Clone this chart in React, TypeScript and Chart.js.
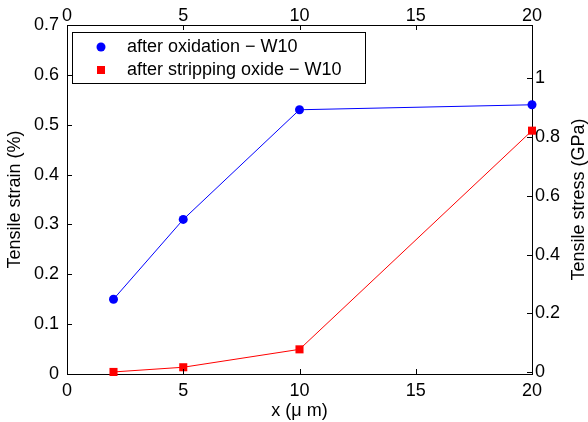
import React, { useEffect, useRef } from 'react';
import { Chart, registerables } from 'chart.js';

Chart.register(...registerables);

const xValues = [2, 5, 10, 20];
const strainValues = [0.15, 0.31, 0.53, 0.54];
const stressValues = [0, 0.016, 0.077, 0.822];
const xTicks = [0, 5, 10, 15, 20];
const strainTicks = [0, 0.1, 0.2, 0.3, 0.4, 0.5, 0.6, 0.7];
const stressTicks = [0, 0.2, 0.4, 0.6, 0.8, 1];
const seriesLabels = ['after oxidation − W10', 'after stripping oxide − W10'];
const xTitle = 'x (μ m)';
const leftTitle = 'Tensile strain (%)';
const rightTitle = 'Tensile stress (GPa)';

const FONT = '"Liberation Sans", Arial, Helvetica, sans-serif';
const FS = 18;

const overlayPlugin = {
  id: 'overlay',
  afterDraw(chart: any) {
    const { ctx, chartArea: ca, scales } = chart;
    ctx.save();
    ctx.strokeStyle = '#000';
    ctx.lineWidth = 1;
    const L = 5;
    ctx.beginPath();
    xTicks.forEach((v) => {
      const x = Math.round(scales.x.getPixelForValue(v)) + 0.5;
      ctx.moveTo(x, ca.bottom);
      ctx.lineTo(x, ca.bottom - L);
      ctx.moveTo(x, ca.top);
      ctx.lineTo(x, ca.top + L);
    });
    strainTicks.forEach((v) => {
      const y = Math.round(scales.y.getPixelForValue(v)) + 0.5;
      ctx.moveTo(ca.left, y);
      ctx.lineTo(ca.left + L, y);
    });
    stressTicks.forEach((v) => {
      const y = Math.round(scales.y2.getPixelForValue(v)) + 0.5;
      ctx.moveTo(ca.right, y);
      ctx.lineTo(ca.right - L, y);
    });
    ctx.stroke();

    ctx.fillStyle = '#000';
    ctx.font = `${FS}px ${FONT}`;
    ctx.textAlign = 'center';
    ctx.textBaseline = 'middle';

    // top axis tick labels
    xTicks.forEach((v) => {
      ctx.fillText(String(v), scales.x2.getPixelForValue(v), 16);
    });

    // right axis title (reads bottom-to-top)
    ctx.save();
    ctx.translate(579, (ca.top + ca.bottom) / 2);
    ctx.rotate(-Math.PI / 2);
    ctx.fillText(rightTitle, 0, 0);
    ctx.restore();

    // legend box
    const bx = 72.5, by = 32.5, bw = 293, bh = 51;
    ctx.fillStyle = '#fff';
    ctx.fillRect(bx, by, bw, bh);
    ctx.strokeRect(bx, by, bw, bh);
    const rows = [by + 14.5, by + 37.5];
    ctx.fillStyle = '#0000ff';
    ctx.beginPath();
    ctx.arc(101, rows[0], 4.5, 0, Math.PI * 2);
    ctx.fill();
    ctx.fillStyle = '#ff0000';
    ctx.fillRect(101 - 4, rows[1] - 4, 8, 8);
    ctx.fillStyle = '#000';
    ctx.textAlign = 'left';
    ctx.fillText(seriesLabels[0], 127, rows[0]);
    ctx.fillText(seriesLabels[1], 127, rows[1]);
    ctx.restore();
  },
};

export default function App() {
  const ref = useRef<HTMLCanvasElement>(null);
  useEffect(() => {
    document.body.style.margin = '0';
    const chart = new Chart(ref.current!, {
      type: 'line',
      data: {
        datasets: [
          {
            label: seriesLabels[0],
            data: xValues.map((x, i) => ({ x, y: strainValues[i] })),
            borderColor: '#0000ff',
            backgroundColor: '#0000ff',
            borderWidth: 1,
            pointStyle: 'circle',
            pointRadius: 4.5,
            pointBorderWidth: 0,
            yAxisID: 'y',
            xAxisID: 'x',
            clip: false,
          },
          {
            label: seriesLabels[1],
            data: xValues.map((x, i) => ({ x, y: stressValues[i] })),
            borderColor: '#ff0000',
            backgroundColor: '#ff0000',
            borderWidth: 1,
            pointStyle: 'rect',
            pointRadius: 5.7,
            pointBorderWidth: 0,
            yAxisID: 'y2',
            xAxisID: 'x',
            clip: false,
          },
        ],
      },
      options: {
        responsive: false,
        animation: false,
        layout: { padding: 0 },
        plugins: { legend: { display: false }, tooltip: { enabled: false } },
        scales: {
          x: {
            type: 'linear',
            position: 'bottom',
            min: 0,
            max: 20,
            afterBuildTicks: (s: any) => { s.ticks = xTicks.map((v) => ({ value: v })); },
            afterFit: (s: any) => { s.height = 48; },
            grid: { display: false, drawTicks: false },
            border: { display: true, color: '#000', width: 1 },
            ticks: { color: '#000', font: { family: FONT, size: FS }, padding: 6, maxRotation: 0 },
            title: { display: true, text: xTitle, color: '#000', font: { family: FONT, size: FS }, padding: { top: 0, bottom: 0 } },
          },
          x2: {
            type: 'linear',
            position: 'top',
            min: 0,
            max: 20,
            afterBuildTicks: (s: any) => { s.ticks = xTicks.map((v) => ({ value: v })); },
            afterFit: (s: any) => { s.height = 25; },
            grid: { display: false, drawTicks: false },
            border: { display: true, color: '#000', width: 1 },
            ticks: { display: false },
          },
          y: {
            type: 'linear',
            position: 'left',
            min: 0,
            max: 0.7,
            afterBuildTicks: (s: any) => { s.ticks = strainTicks.map((v) => ({ value: v })); },
            afterFit: (s: any) => { s.width = 67; },
            grid: { display: false, drawTicks: false },
            border: { display: true, color: '#000', width: 1 },
            ticks: { color: '#000', font: { family: FONT, size: FS }, padding: 8, callback: (v: any) => String(Math.round(v * 10) / 10) },
            title: { display: true, text: leftTitle, color: '#000', font: { family: FONT, size: FS }, padding: { top: 4, bottom: 0 } },
          },
          y2: {
            type: 'linear',
            position: 'right',
            min: -0.007,
            max: 1.182,
            afterBuildTicks: (s: any) => { s.ticks = stressTicks.map((v) => ({ value: v })); },
            afterFit: (s: any) => { s.width = 56; },
            grid: { display: false, drawTicks: false },
            border: { display: true, color: '#000', width: 1 },
            ticks: { color: '#000', font: { family: FONT, size: FS }, padding: 3, callback: (v: any) => String(Math.round(v * 10) / 10) },
          },
        },
      },
      plugins: [overlayPlugin],
    } as any);
    return () => chart.destroy();
  }, []);
  return (
    <div style={{ position: 'absolute', left: 0, top: 0, width: 588, height: 422, background: '#fff' }}>
      <canvas ref={ref} width={588} height={422} style={{ width: 588, height: 422, display: 'block' }} />
    </div>
  );
}
